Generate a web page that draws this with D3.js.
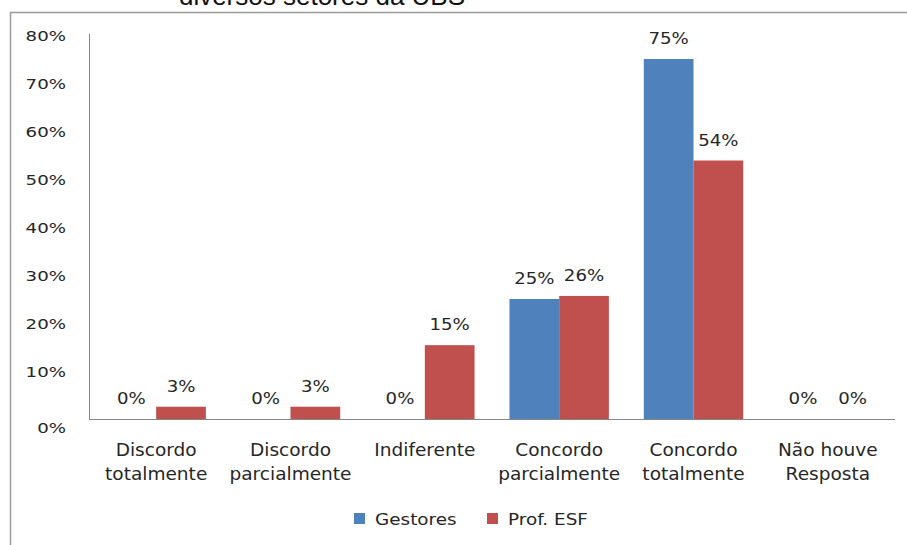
<!DOCTYPE html>
<html>
<head>
<meta charset="utf-8">
<script src="https://cdn.jsdelivr.net/npm/d3@7"></script>
<style>
  html, body { margin: 0; padding: 0; background: #fff; }
  svg { display: block; }
  text { font-family: "DejaVu Sans", Verdana, sans-serif; fill: #262626; }
</style>
</head>
<body>
<svg id="chart" width="907" height="545"></svg>
<script>
// ---- data ----
const categories = ["Discordo\ntotalmente", "Discordo\nparcialmente", "Indiferente", "Concordo\nparcialmente", "Concordo\ntotalmente", "Não houve\nResposta"];
const seriesNames = ["Gestores", "Prof. ESF"];
const gestores = [0, 0, 0, 25, 75, 0];
const profESF = [2.56, 2.56, 15.38, 25.64, 53.85, 0];
const yTicks = [0, 10, 20, 30, 40, 50, 60, 70, 80];
const colors = ["#4F81BD", "#C0504D"];
const titleText = "diversos setores da UBS";

const series = [gestores, profESF];
const svg = d3.select("#chart");

// outer frame (top and left borders)
svg.append("line").attr("x1", 10).attr("x2", 907).attr("y1", 12.5).attr("y2", 12.5)
  .attr("stroke", "#9a9a9a").attr("stroke-width", 1.5);
svg.append("line").attr("x1", 10.5).attr("x2", 10.5).attr("y1", 12).attr("y2", 545)
  .attr("stroke", "#9a9a9a").attr("stroke-width", 1.5);

// title (cut off at top)
svg.append("text").attr("x", 322).attr("y", 5).attr("text-anchor", "middle")
  .style("font-family", "'Liberation Sans', Arial, sans-serif")
  .style("font-size", "26px").style("fill", "#111").text(titleText);

const plotLeft = 89, plotRight = 895, plotTop = 35, plotBottom = 419;

const y = d3.scaleLinear().domain([0, 80]).range([plotBottom, plotTop]);
const x0 = d3.scaleBand().domain(categories).range([plotLeft, plotRight])
  .paddingInner(0.26).paddingOuter(0.13);
const x1 = d3.scaleBand().domain(seriesNames).range([0, x0.bandwidth()]);

// y axis
const yAxis = svg.append("g").attr("transform", `translate(${plotLeft},0)`)
  .call(d3.axisLeft(y).tickValues(yTicks).tickSize(0).tickFormat(d => d + "%"));
yAxis.select(".domain").attr("stroke", "#878787").attr("d", `M0.5,${plotTop - 1}V${plotBottom + 0.5}`);
const tsx = 1.3;
yAxis.selectAll(".tick text")
  .attr("x", -23 / tsx)
  .attr("dy", d => d === 0 ? "1.0em" : "0.36em")
  .attr("transform", `scale(${tsx},1)`)
  .style("font-size", "14px").style("font-family", "'DejaVu Sans', Verdana, sans-serif")
  .style("fill", "#262626");

// x axis
const xAxis = svg.append("g").attr("transform", `translate(0,${plotBottom})`)
  .call(d3.axisBottom(x0).tickSize(0).tickFormat(""));
xAxis.select(".domain").attr("stroke", "#878787").attr("d", `M${plotLeft},0.5H${plotRight}`);
const csx = 1.06;
xAxis.selectAll(".tick").each(function(d) {
  const g = d3.select(this);
  g.select("text").remove();
  const t = g.append("text").attr("text-anchor", "middle")
    .attr("transform", `scale(${csx},1)`)
    .style("font-size", "17.5px");
  d.split("\n").forEach((line, i) => {
    t.append("tspan").attr("x", 0).attr("y", 37 + i * 24).text(line);
  });
});

// bars
const groups = svg.append("g").selectAll("g").data(categories).join("g")
  .attr("transform", d => `translate(${x0(d)},0)`);

groups.selectAll("rect")
  .data((d, i) => seriesNames.map((s, j) => ({ s, v: series[j][i], j })))
  .join("rect")
  .attr("x", d => x1(d.s))
  .attr("width", x1.bandwidth())
  .attr("y", d => y(d.v))
  .attr("height", d => y(0) - y(d.v))
  .attr("fill", d => colors[d.j]);

// data labels
const dsx = 1.1;
groups.selectAll("text.lbl")
  .data((d, i) => seriesNames.map((s, j) => ({ s, v: series[j][i], j })))
  .join("text").attr("class", "lbl")
  .attr("text-anchor", "middle")
  .attr("transform", d => `translate(${x1(d.s) + x1.bandwidth() / 2},${y(d.v) - 15}) scale(${dsx},1)`)
  .style("font-size", "16.5px")
  .text(d => Math.round(d.v) + "%");

// legend
const legend = svg.append("g");
const legendX = [354, 487];
seriesNames.forEach((s, j) => {
  legend.append("rect").attr("x", legendX[j]).attr("y", 513).attr("width", 11).attr("height", 11)
    .attr("fill", colors[j]);
  legend.append("text")
    .attr("transform", `translate(${legendX[j] + 21},525) scale(1.15,1)`)
    .style("font-size", "16px").text(s);
});
</script>
</body>
</html>
